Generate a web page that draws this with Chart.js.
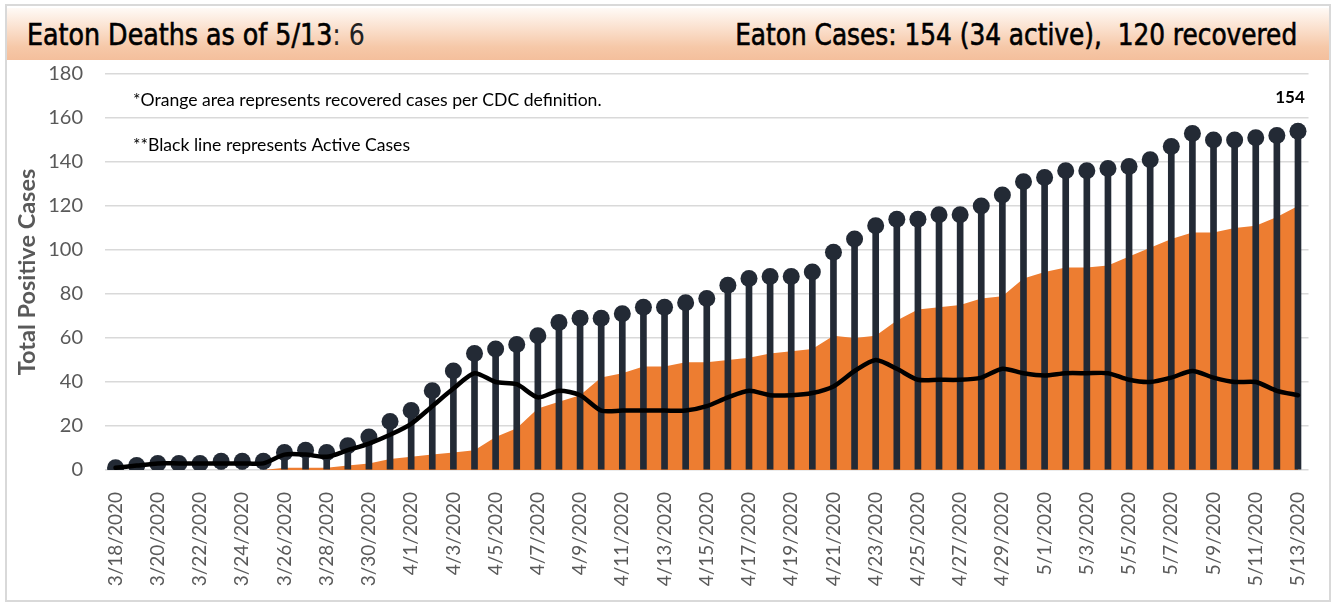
<!DOCTYPE html>
<html>
<head>
<meta charset="utf-8">
<script src="https://cdn.jsdelivr.net/npm/chart.js@4.4.0/dist/chart.umd.min.js"></script>
<style>
  html, body { margin: 0; padding: 0; background: #fff; }
  #wrap { position: relative; width: 1335px; height: 605px; overflow: hidden; background: #fff; }
  #frame { position: absolute; left: 5px; top: 4px; width: 1326px; height: 598px; border: 2px solid #d9d9d9; box-sizing: border-box; }
  #band { position: absolute; left: 7px; top: 8px; width: 1322px; height: 52px;
          background: linear-gradient(to bottom, #fffaf6 0%, #fbe3d2 35%, #f6c8a8 75%, #f4bf9c 100%); }
  .hdr { position: absolute; top: 17px; font-family: 'DejaVu Sans Condensed', 'Liberation Sans Narrow', sans-serif;
         font-size: 30px; color: #000; line-height: 36px; white-space: pre; -webkit-text-stroke: 0.6px #000; }
  #hl { left: 27px; transform-origin: left center; }
  #hl span { color: #222; -webkit-text-stroke: 0px; }
  #hr { right: 38px; transform-origin: right center; }
  canvas { position: absolute; left: 0; top: 0; }
</style>
</head>
<body>
<div id="wrap">
  <div id="frame"></div>
  <div id="band"></div>
  <div class="hdr" id="hl">Eaton Deaths as of 5/13<span>: 6</span></div>
  <div class="hdr" id="hr">Eaton Cases: 154 (34 active),  120 recovered</div>
  <canvas id="c" width="1335" height="605"></canvas>
</div>
<script>
const labels = [
  '3/18/2020','3/19/2020','3/20/2020','3/21/2020','3/22/2020','3/23/2020','3/24/2020','3/25/2020',
  '3/26/2020','3/27/2020','3/28/2020','3/29/2020','3/30/2020','3/31/2020',
  '4/1/2020','4/2/2020','4/3/2020','4/4/2020','4/5/2020','4/6/2020','4/7/2020','4/8/2020','4/9/2020','4/10/2020',
  '4/11/2020','4/12/2020','4/13/2020','4/14/2020','4/15/2020','4/16/2020','4/17/2020','4/18/2020','4/19/2020','4/20/2020',
  '4/21/2020','4/22/2020','4/23/2020','4/24/2020','4/25/2020','4/26/2020','4/27/2020','4/28/2020','4/29/2020','4/30/2020',
  '5/1/2020','5/2/2020','5/3/2020','5/4/2020','5/5/2020','5/6/2020','5/7/2020','5/8/2020','5/9/2020','5/10/2020',
  '5/11/2020','5/12/2020','5/13/2020'
];
const totalCases = [
  1,2,3,3,3,4,4,4,
  8,9,8,11,15,22,
  27,36,45,53,55,57,61,67,69,69,
  71,74,74,76,78,84,87,88,88,90,
  99,105,111,114,114,116,116,120,125,131,
  133,136,136,137,138,141,147,153,150,150,
  151,152,154
];
const recoveredCases = [
  0,0,0,0,0,0,0,0,
  1,1,1,2,3,5,
  6,7,8,9,15,19,28,31,34,42,
  44,47,47,49,49,50,51,53,54,55,
  61,60,61,68,73,74,75,78,79,87,
  90,92,92,93,97,101,105,108,108,110,
  111,115,120
];
const activeCases = [
  1,2,3,3,3,3,3,3,
  7,7,6,9,12,16,
  21,29,37,44,40,39,33,36,34,27,
  27,27,27,27,29,33,36,34,34,35,
  38,45,50,46,41,41,41,42,46,44,
  43,44,44,44,41,40,42,45,42,40,
  40,36,34
];
const yTicks = [0,20,40,60,80,100,120,140,160,180];
const notes = ['*Orange area represents recovered cases per CDC definition.', '**Black line represents Active Cases'];

const NAVY = '#232a35';
const ORANGE = '#ed7d31';

// fit header texts to the reference widths
function fitWidth(id, target) {
  const el = document.getElementById(id);
  const w = el.getBoundingClientRect().width;
  if (w > 0) el.style.transform = 'scaleX(' + (target / w) + ')';
}
fitWidth('hl', 338);
fitWidth('hr', 562);

const annot = {
  id: 'annot',
  afterDatasetsDraw(chart) {
    const ctx = chart.ctx;
    ctx.save();
    ctx.fillStyle = '#000';
    ctx.font = '17.6px Lato';
    ctx.textBaseline = 'middle';
    ctx.textAlign = 'left';
    ctx.fillText(notes[0], 133, 100);
    ctx.fillText(notes[1], 133, 145);
    const meta = chart.getDatasetMeta(2);
    const last = meta.data[meta.data.length - 1];
    ctx.font = 'bold 17px Lato';
    ctx.textAlign = 'center';
    ctx.fillText(String(totalCases[totalCases.length - 1]), last.x - 8, last.y - 34);
    ctx.restore();
  }
};

new Chart(document.getElementById('c'), {
  data: {
    labels: labels,
    datasets: [
      { type: 'line', label: 'Recovered', data: recoveredCases, fill: 'origin', backgroundColor: ORANGE,
        borderWidth: 0, borderColor: ORANGE, pointRadius: 0, tension: 0, order: 4 },
      { type: 'bar', label: 'Total', data: totalCases, backgroundColor: NAVY, barThickness: 6, order: 3 },
      { type: 'line', label: 'Total points', data: totalCases, showLine: false, pointRadius: 8.5,
        pointBackgroundColor: NAVY, pointBorderWidth: 0, borderColor: NAVY, order: 2 },
      { type: 'line', label: 'Active', data: activeCases, borderColor: '#000', borderWidth: 4.5,
        pointRadius: 0, tension: 0.25, fill: false, order: 1, borderCapStyle: 'round', borderJoinStyle: 'round' }
    ]
  },
  options: {
    responsive: false,
    animation: false,
    layout: { padding: { left: 12, top: 74, right: 25, bottom: 0 } },
    plugins: { legend: { display: false }, tooltip: { enabled: false } },
    scales: {
      x: {
        grid: { display: false },
        border: { display: false },
        ticks: {
          autoSkip: false, maxRotation: 90, minRotation: 90, padding: 14,
          color: '#595959', font: { family: 'Lato', size: 19 },
          callback: function (v, i) { return i % 2 === 0 ? labels[i] : ''; }
        },
        afterFit(s) { s.height = 135; }
      },
      y: {
        min: 0, max: 180,
        afterBuildTicks(s) { s.ticks = yTicks.map(v => ({ value: v })); },
        ticks: { padding: 22, color: '#595959', font: { family: 'Lato', size: 20 } },
        grid: { color: '#d9d9d9', lineWidth: 1.5, drawTicks: false },
        border: { display: false },
        title: { display: true, text: 'Total Positive Cases', color: '#595959',
                 font: { family: 'Lato', size: 23.5, weight: 'bold' }, padding: { top: 1, bottom: 0 } },
        afterFit(s) { s.width = 93; }
      }
    }
  },
  plugins: [annot]
});
</script>
</body>
</html>
